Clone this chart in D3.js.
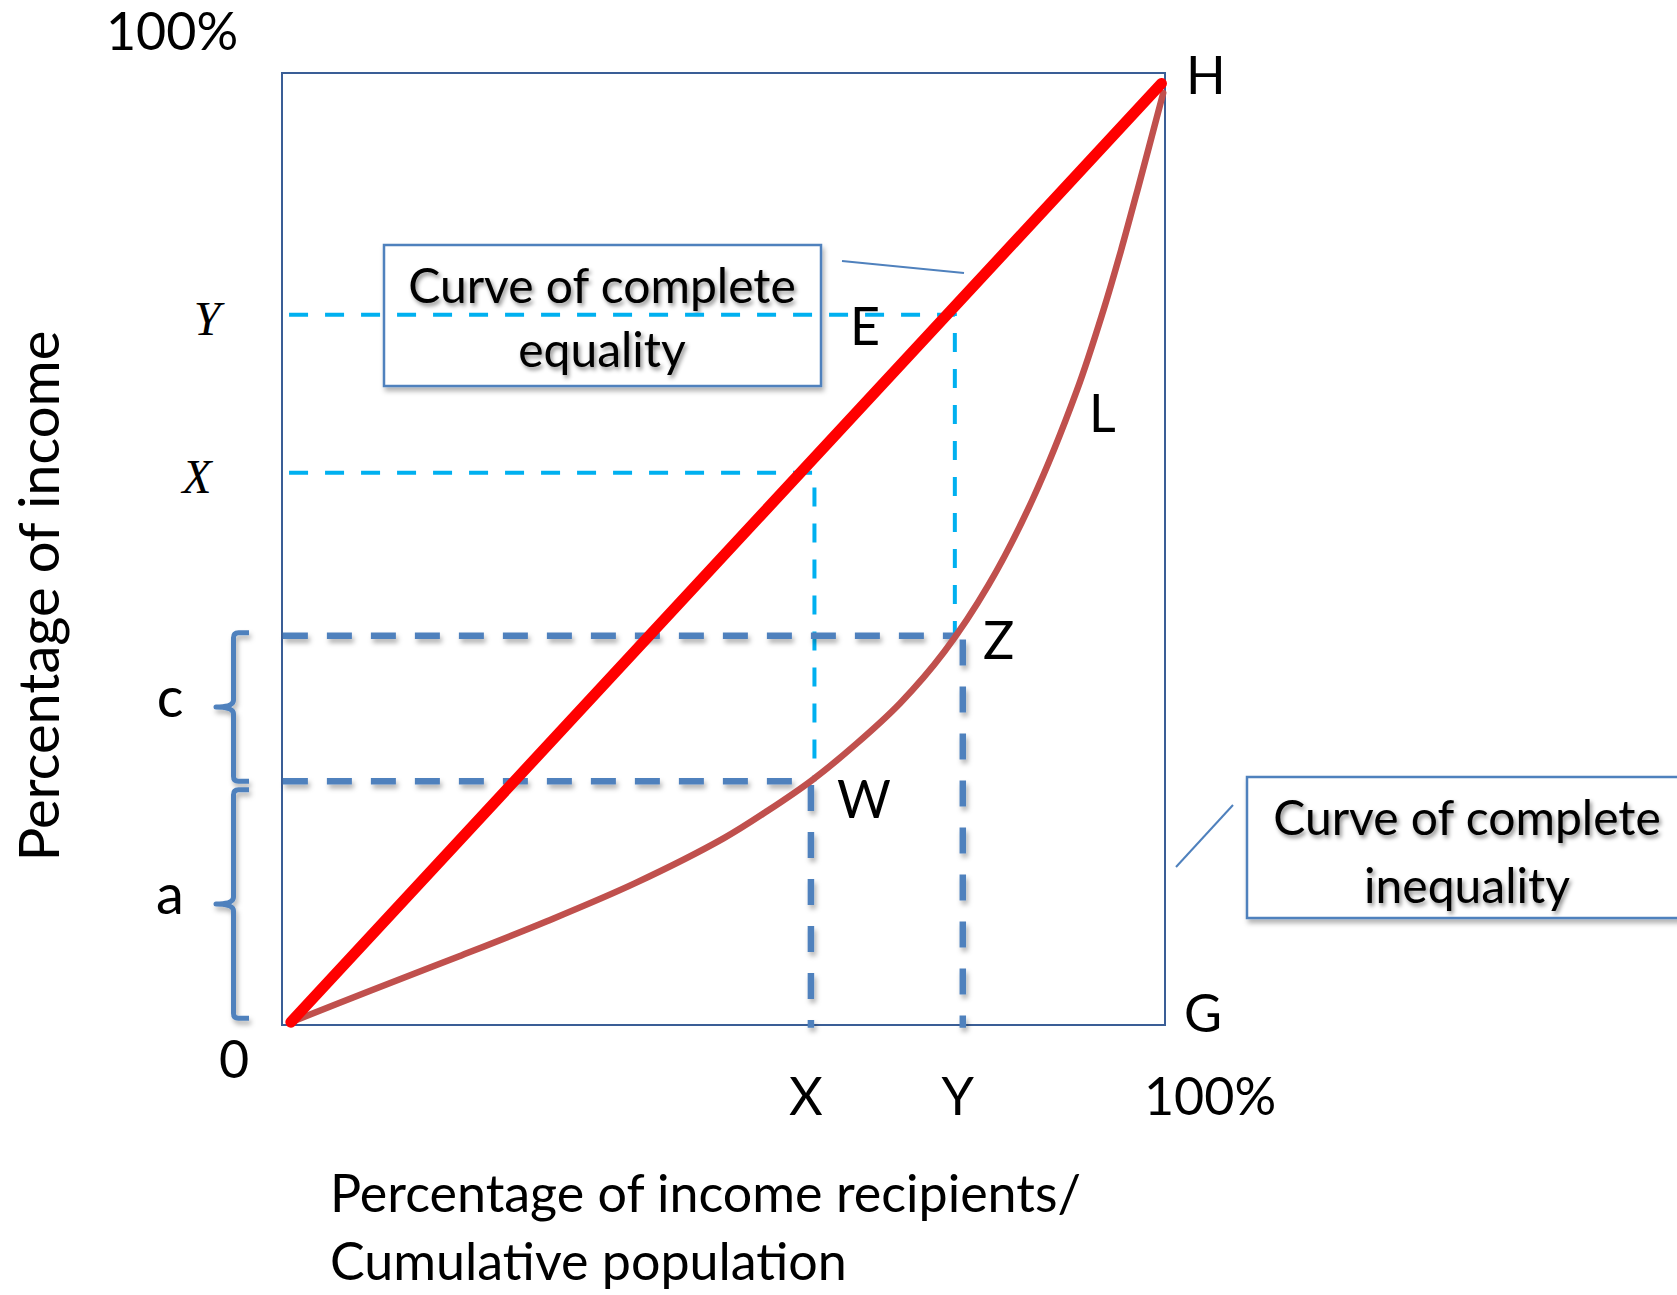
<!DOCTYPE html>
<html>
<head>
<meta charset="utf-8">
<script src="https://cdn.jsdelivr.net/npm/d3@7"></script>
<style>
  html, body { margin: 0; padding: 0; background: #fff; }
  svg { display: block; }
  text { font-family: Lato, "Open Sans", sans-serif; fill: #000; }
</style>
</head>
<body>
<svg id="chart" width="1677" height="1295"></svg>
<script>
// everything is in percent: x = cumulative population, y = cumulative income

// line of complete equality (O to H)
const equalityLine = [[1.0, 0.3], [99.6, 98.9]];

// Lorenz curve L
const lorenzCurve = [
  [1, 0.3], [10, 3.6], [20, 7.2], [30, 10.9], [40, 14.9], [50, 19.6],
  [55, 22.5], [60, 25.7], [65, 29.5], [70, 33.8], [75, 39.2], [80, 46.2],
  [85, 55.2], [90, 66.6], [93, 75.0], [95, 81.3], [97, 88.1], [99.8, 97.9]
];

// guide points W and Z (population share / income share on the curve)
const guideNames = ["W", "Z"];
const popShare = [59.9, 77.1];
const lorenzAt = [25.6, 40.9];

// same population groups on the equality line
const equalAt = [58.0, 74.6];
const equalPop = [60.3, 76.2];

// braces on the income axis
const braceLabels = ["a", "c"];
const braceSpans = [[0.7, 24.7], [25.6, 41.2]];

// tick labels
const xTickLabels = ["X", "Y", "100%"];
const yTickLabels = ["X", "Y"];

//////////////////////////////////////////////////////////////////////

const svg = d3.select("#chart");

const x = d3.scaleLinear().domain([0, 100]).range([282, 1165]);
const y = d3.scaleLinear().domain([0, 100]).range([1025, 73]);

const line = d3.line().x(d => x(d[0])).y(d => y(d[1]));

// shadows (userSpaceOnUse so flat lines don't vanish)
const defs = svg.append("defs");
function addShadow(id, dx, dy, blur, opacity) {
  defs.append("filter")
      .attr("id", id)
      .attr("filterUnits", "userSpaceOnUse")
      .attr("x", 0).attr("y", 0).attr("width", 1677).attr("height", 1295)
    .append("feDropShadow")
      .attr("dx", dx).attr("dy", dy)
      .attr("stdDeviation", blur)
      .attr("flood-color", "#000")
      .attr("flood-opacity", opacity);
}
addShadow("shadow", 2, 4, 2.5, 0.3);
addShadow("textShadow", 2, 3, 2, 0.45);

// plot frame
svg.append("rect")
    .attr("x", x(0))
    .attr("y", y(100))
    .attr("width", x(100) - x(0))
    .attr("height", y(0) - y(100))
    .attr("fill", "none")
    .attr("stroke", "#3A5E96")
    .attr("stroke-width", 2);

// callout boxes
function calloutBox(bx, by, bw, bh, lines, cx, baselines, lx1, ly1, lx2, ly2) {
  svg.append("line")
      .attr("x1", lx1).attr("y1", ly1).attr("x2", lx2).attr("y2", ly2)
      .attr("stroke", "#4F81BD")
      .attr("stroke-width", 2);
  svg.append("rect")
      .attr("x", bx).attr("y", by)
      .attr("width", bw).attr("height", bh)
      .attr("fill", "#fff")
      .attr("stroke", "#4F81BD")
      .attr("stroke-width", 2.5)
      .attr("filter", "url(#shadow)");
  lines.forEach(function(t, i) {
    svg.append("text")
        .attr("x", cx)
        .attr("y", baselines[i])
        .attr("text-anchor", "middle")
        .attr("filter", "url(#textShadow)")
        .style("font-size", "48px")
        .text(t);
  });
}
calloutBox(384, 245, 437, 141, ["Curve of complete", "equality"], 602, [303, 367], 842, 261, 964, 273);
calloutBox(1247, 777, 450, 141, ["Curve of complete", "inequality"], 1467, [835, 903], 1176, 867, 1233, 805);

// light blue guides from the equality line
const lightGuides = equalAt.map((v, i) => [[0.8, v], [equalPop[i], v], [equalPop[i], lorenzAt[i]]]);
svg.append("g")
  .selectAll("path")
  .data(lightGuides)
  .enter().append("path")
    .attr("d", line)
    .attr("fill", "none")
    .attr("stroke", "#00B0F0")
    .attr("stroke-width", 4)
    .attr("stroke-dasharray", "19,17");

// steel blue guides for W and Z
const steel = svg.append("g").attr("filter", "url(#shadow)");
steel.selectAll("path.h")
  .data(lorenzAt)
  .enter().append("path")
    .attr("class", "h")
    .attr("d", (v, i) => line([[0.1, v], [popShare[i] - 1.0, v]]))
    .attr("fill", "none")
    .attr("stroke", "#4F81BD")
    .attr("stroke-width", 6.5)
    .attr("stroke-dasharray", "25,19");
steel.selectAll("path.v")
  .data(popShare)
  .enter().append("path")
    .attr("class", "v")
    .attr("d", (v, i) => line([[v, lorenzAt[i] - 0.4], [v, -0.3]]))
    .attr("fill", "none")
    .attr("stroke", "#4F81BD")
    .attr("stroke-width", 6.5)
    .attr("stroke-dasharray", "26,21");

// Lorenz curve
svg.append("path")
    .datum(lorenzCurve)
    .attr("d", line.curve(d3.curveCatmullRom))
    .attr("fill", "none")
    .attr("stroke", "#C0504D")
    .attr("stroke-width", 6.5)
    .attr("stroke-linecap", "round");
line.curve(d3.curveLinear);

// line of equality
svg.append("path")
    .datum(equalityLine)
    .attr("d", line)
    .attr("fill", "none")
    .attr("stroke", "#FF0000")
    .attr("stroke-width", 11)
    .attr("stroke-linecap", "round");

// braces on the left
const braceV = 233.5, braceHook = 249, braceNub = 216;
function bracePath(span) {
  const top = y(span[1]), bot = y(span[0]), mid = (top + bot) / 2;
  const p = d3.path();
  p.moveTo(braceHook, top);
  p.lineTo(braceV + 5, top);
  p.quadraticCurveTo(braceV, top, braceV, top + 5);
  p.lineTo(braceV, mid - 7);
  p.quadraticCurveTo(braceV, mid, braceNub, mid);
  p.quadraticCurveTo(braceV, mid, braceV, mid + 7);
  p.lineTo(braceV, bot - 5);
  p.quadraticCurveTo(braceV, bot, braceV + 5, bot);
  p.lineTo(braceHook, bot);
  return p.toString();
}
const braces = svg.append("g").attr("filter", "url(#shadow)");
braces.selectAll("path")
  .data(braceSpans)
  .enter().append("path")
    .attr("d", bracePath)
    .attr("fill", "none")
    .attr("stroke", "#4F81BD")
    .attr("stroke-width", 5)
    .attr("stroke-linejoin", "round");
svg.append("g")
  .selectAll("text")
  .data(braceSpans)
  .enter().append("text")
    .attr("x", 170)
    .attr("y", d => (y(d[0]) + y(d[1])) / 2 + 10)
    .attr("text-anchor", "middle")
    .style("font-size", "56px")
    .text((d, i) => braceLabels[i]);

// income axis labels
svg.append("text")
    .attr("x", 172).attr("y", 50)
    .attr("text-anchor", "middle")
    .style("font-size", "52px")
    .text("100%");
svg.append("g")
  .selectAll("text")
  .data(equalAt)
  .enter().append("text")
    .attr("x", (d, i) => i === 0 ? 197 : 207)
    .attr("y", d => y(d) + 20)
    .attr("text-anchor", "middle")
    .style("font-family", "'Liberation Serif', serif")
    .style("font-style", "italic")
    .style("font-size", "48px")
    .text((d, i) => yTickLabels[i]);
svg.append("text")
    .attr("x", 234).attr("y", 1078)
    .attr("text-anchor", "middle")
    .style("font-size", "52px")
    .text("0");

// population axis labels
const xTickValues = popShare.concat([100]);
svg.append("g")
  .selectAll("text")
  .data(xTickValues)
  .enter().append("text")
    .attr("x", (d, i) => i < 2 ? x(d) - 5 : 1210)
    .attr("y", 1115)
    .attr("text-anchor", "middle")
    .style("font-size", "52px")
    .text((d, i) => xTickLabels[i]);

// point labels
const pointLabels = [
  {t: "H", px: 1186, py: 94},
  {t: "E", px: 850, py: 345},
  {t: "L", px: 1089, py: 432},
  {t: guideNames[1], px: 983, py: 659},
  {t: guideNames[0], px: 837, py: 818},
  {t: "G", px: 1184, py: 1032}
];
svg.append("g")
  .selectAll("text")
  .data(pointLabels)
  .enter().append("text")
    .attr("x", d => d.px)
    .attr("y", d => d.py)
    .style("font-size", "52px")
    .text(d => d.t);

// axis titles
svg.append("text")
    .attr("transform", "translate(59,596) rotate(-90)")
    .attr("text-anchor", "middle")
    .style("font-size", "56px")
    .text("Percentage of income");
svg.append("text")
    .attr("x", 330).attr("y", 1212)
    .style("font-size", "52px")
    .text("Percentage of income recipients/");
svg.append("text")
    .attr("x", 330).attr("y", 1280)
    .style("font-size", "52px")
    .text("Cumulative population");
</script>
</body>
</html>
